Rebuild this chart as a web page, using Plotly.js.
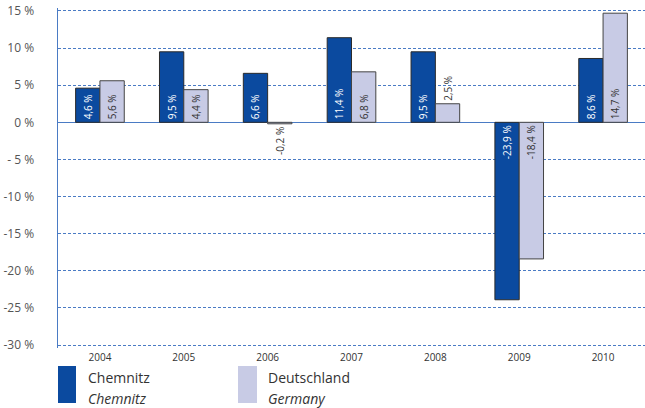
<!DOCTYPE html>
<html>
<head>
<meta charset="utf-8">
<script src="https://cdn.plot.ly/plotly-3.0.1.min.js"></script>
<style>html,body{margin:0;padding:0;background:#fff;}#chart{width:645px;height:408px;}</style>
</head>
<body>
<div id="chart"></div>
<script>
var years = ['2004', '2005', '2006', '2007', '2008', '2009', '2010'];
var chemnitz = [4.6, 9.5, 6.6, 11.4, 9.5, -23.9, 8.6];
var germany = [5.6, 4.4, -0.2, 6.8, 2.5, -18.4, 14.7];
var chemnitzLabels = ['4,6 %', '9,5 %', '6,6 %', '11,4 %', '9,5 %', '-23,9 %', '8,6 %'];
var germanyLabels = ['5,6 %', '4,4 %', '-0,2 %', '6,8 %', '2,5 %', '-18,4 %', '14,7 %'];
var germanyPos = ['inside', 'inside', 'outside', 'inside', 'outside', 'inside', 'inside'];
var yTickVals = [15, 10, 5, 0, -5, -10, -15, -20, -25, -30];
var yTickText = ['15 %', '10 %', '5 %', '0 %', '- 5 %', '-10 %', '-15 %', '-20 %', '-25 %', '-30 %'];

var font = 'Open Sans, Noto Sans, sans-serif';
var blue = '#0b4a9f';
var lilac = '#c8cbe5';
var gridBlue = '#4a7bc4';

var traces = [
  {
    type: 'bar', x: years, y: chemnitz, name: 'Chemnitz',
    marker: {color: blue, line: {color: '#2b2b2b', width: 1}},
    text: chemnitzLabels, textposition: 'inside', insidetextanchor: 'start',
    textangle: -90, textfont: {family: font, size: 10, color: '#ffffff'},
    constraintext: 'none', cliponaxis: false, hoverinfo: 'skip'
  },
  {
    type: 'bar', x: years, y: germany, name: 'Deutschland',
    marker: {color: lilac, line: {color: '#444444', width: 1}},
    text: germanyLabels, textposition: germanyPos, insidetextanchor: 'start',
    textangle: -90, textfont: {family: font, size: 10, color: '#333333'},
    constraintext: 'none', cliponaxis: false, hoverinfo: 'skip'
  }
];

function px(x) { return (x - 58) / 587; }
function py(y) { return (348 - y) / 340; }

var layout = {
  width: 645, height: 408,
  margin: {l: 58, r: 0, t: 8, b: 60},
  paper_bgcolor: '#ffffff', plot_bgcolor: '#ffffff',
  showlegend: false,
  barmode: 'group', bargap: 0.42, bargroupgap: 0,
  font: {family: font, color: '#444'},
  xaxis: {
    type: 'category', range: [-0.5, 6.5], showgrid: false, zeroline: false,
    showline: false, ticks: '', tickfont: {family: font, size: 10, color: '#333'},
    ticklabelstandoff: 2, fixedrange: true
  },
  yaxis: {
    range: [-30.4, 15.4], tickvals: yTickVals, ticktext: yTickText,
    showgrid: true, gridcolor: gridBlue, gridwidth: 1, griddash: '3px,2px',
    zeroline: true, zerolinecolor: gridBlue, zerolinewidth: 1.5,
    showline: true, linecolor: gridBlue, linewidth: 1.5,
    ticks: '', tickfont: {family: font, size: 12, color: '#555'},
    ticklabelstandoff: 20, fixedrange: true
  },
  shapes: [
    {type: 'rect', xref: 'paper', yref: 'paper', x0: px(58), x1: px(76), y0: py(403), y1: py(366), fillcolor: blue, line: {width: 0}},
    {type: 'rect', xref: 'paper', yref: 'paper', x0: px(238), x1: px(257), y0: py(403), y1: py(366), fillcolor: lilac, line: {width: 0}}
  ],
  annotations: [
    {xref: 'paper', yref: 'paper', x: px(86), y: py(378), xanchor: 'left', yanchor: 'middle', showarrow: false, text: 'Chemnitz', font: {family: font, size: 14, color: '#333'}},
    {xref: 'paper', yref: 'paper', x: px(86), y: py(398), xanchor: 'left', yanchor: 'middle', showarrow: false, text: '<i>Chemnitz</i>', font: {family: font, size: 14, color: '#333'}},
    {xref: 'paper', yref: 'paper', x: px(266), y: py(378), xanchor: 'left', yanchor: 'middle', showarrow: false, text: 'Deutschland', font: {family: font, size: 14, color: '#333'}},
    {xref: 'paper', yref: 'paper', x: px(266), y: py(398), xanchor: 'left', yanchor: 'middle', showarrow: false, text: '<i>Germany</i>', font: {family: font, size: 14, color: '#333'}}
  ]
};

Plotly.newPlot('chart', traces, layout, {displayModeBar: false, staticPlot: true});
</script>
</body>
</html>
